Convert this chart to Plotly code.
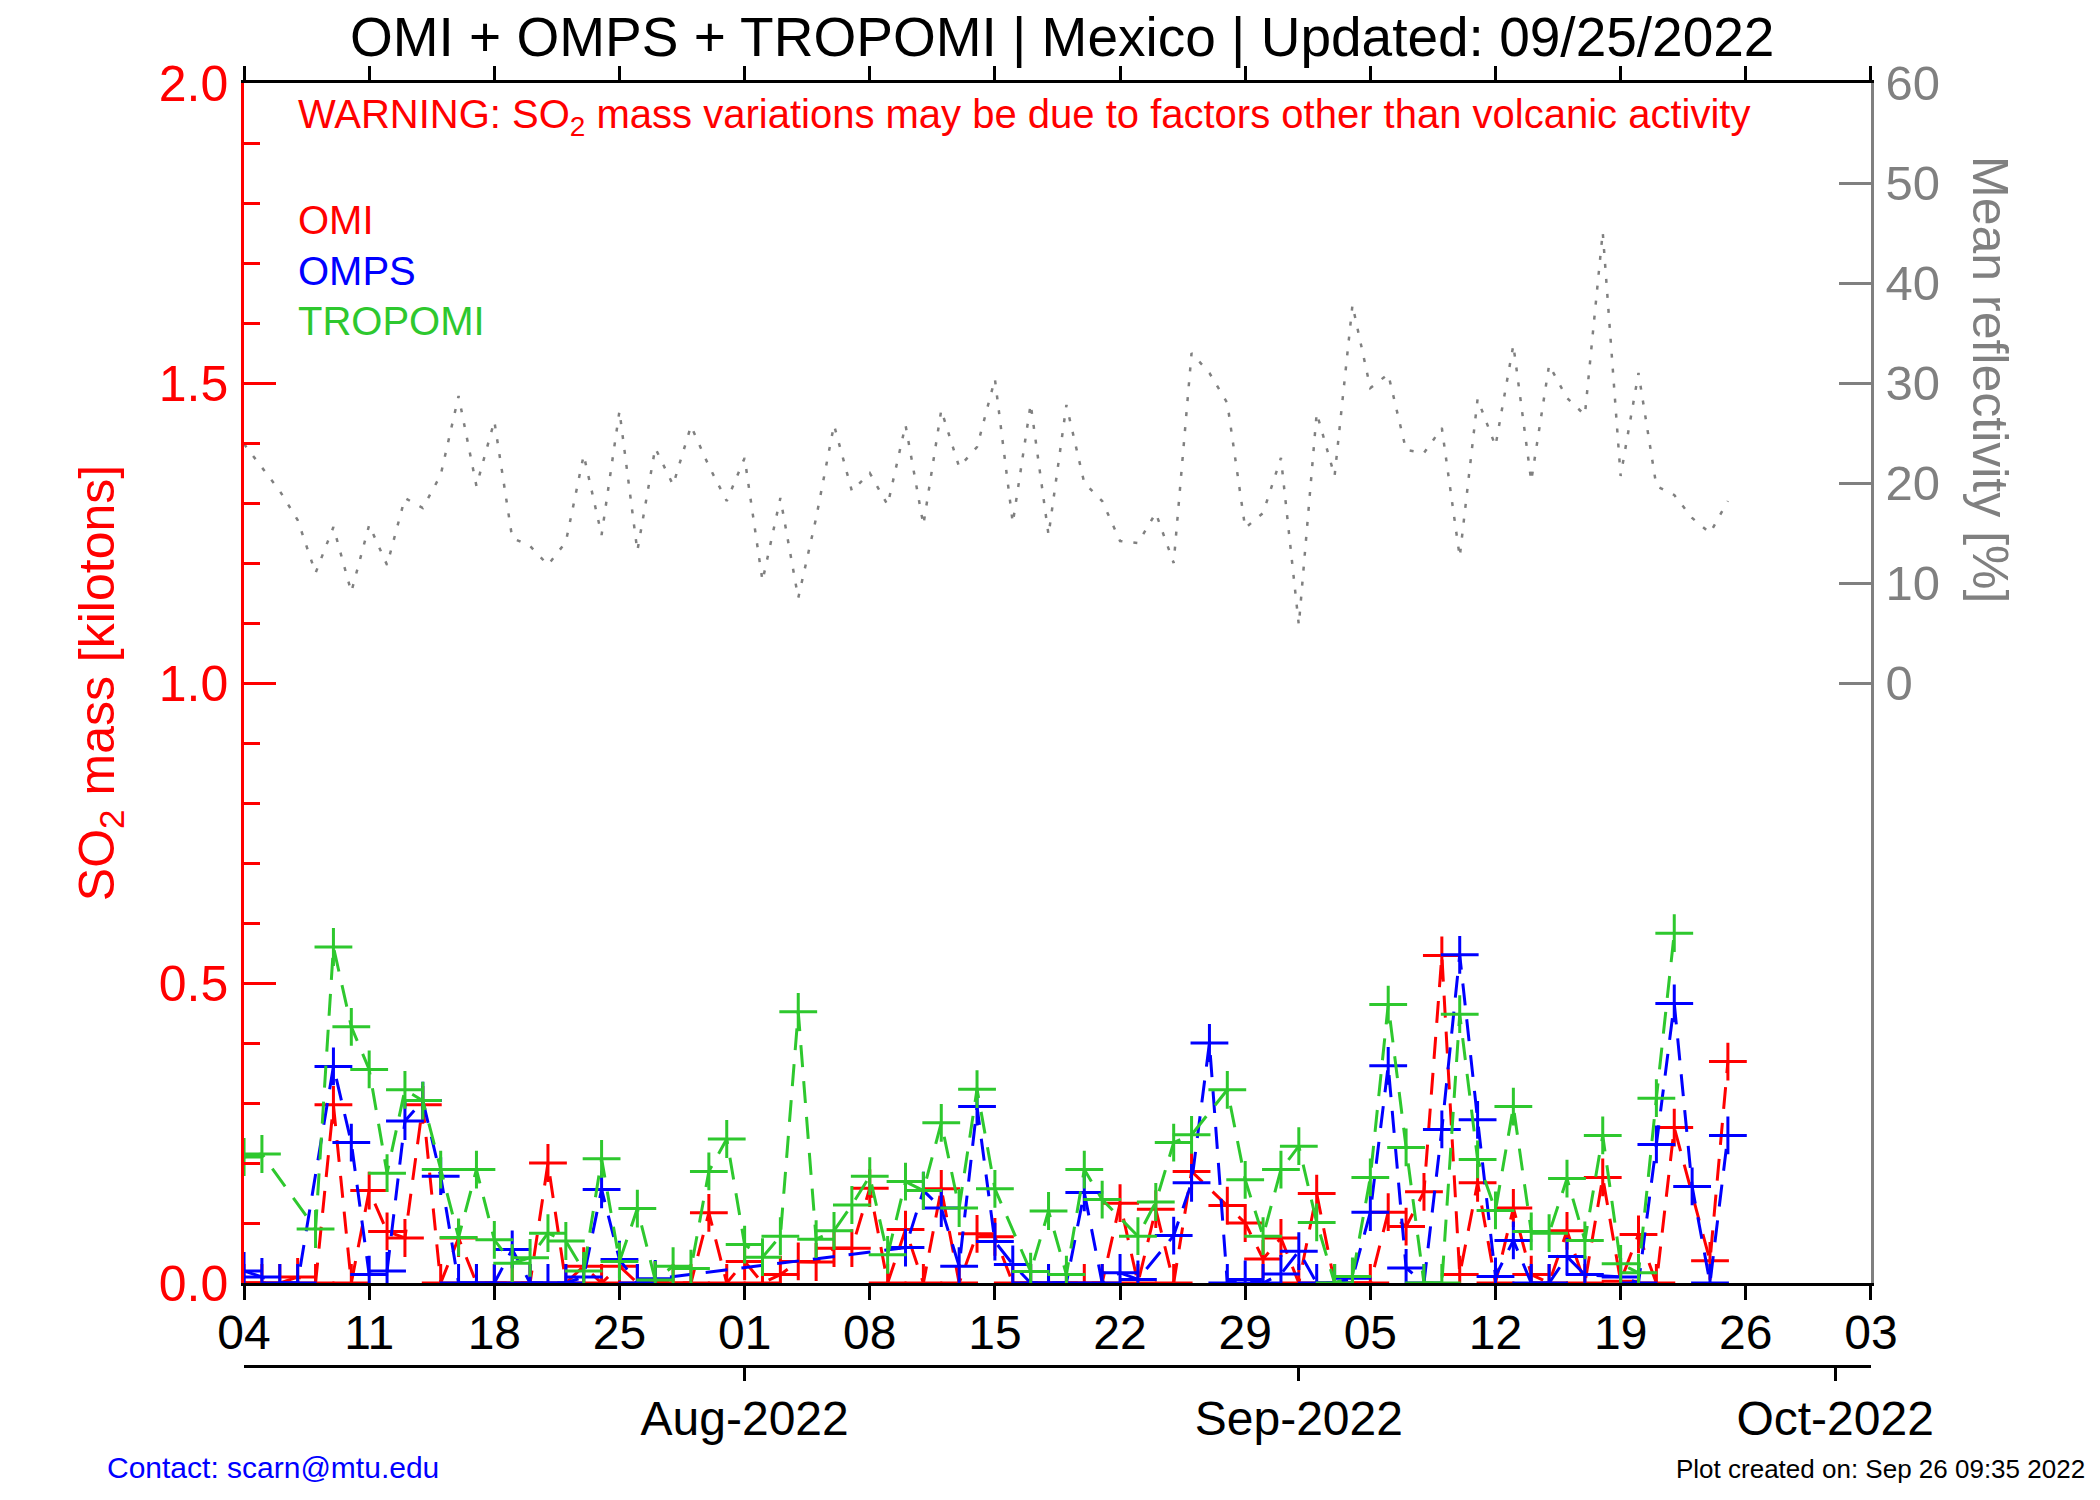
import pandas as pd
import plotly.graph_objects as go

#------------------------------------------------------------
#                          DATA
#------------------------------------------------------------
start_day = '2022-07-04'
n_days = 84
days = pd.date_range(start_day, periods=n_days, freq='D')

# SO2 mass [kilotons], one value per day (None = no data)
omi = [0, 0, 0, 0.01, 0, 0.297, 0, 0.154, 0.086, 0.075,
       0.297, 0, 0.075, 0, 0, 0, 0, 0.2, 0, 0.028,
       0, 0.028, 0, 0.005, 0, 0, 0.117, 0, 0.036, 0,
       0.014, 0.036, 0.035, 0.058, 0.058, 0.158, 0, 0.089, 0, 0.157,
       0, 0.082, 0.077, 0, 0, 0, 0, 0, 0, 0.133,
       0, 0.123, 0, 0.186, None, 0.129, 0.1, 0.04, 0.075, 0,
       0.149, 0, 0, 0, 0.118, 0.094, 0.152, 0.546, 0.014, 0.167,
       0, 0.125, 0.014, 0, 0.087, 0, 0.176, 0.003, 0.081, 0,
       0.259, None, 0.037, 0.369]

omps = [0.02, 0.01, 0, 0, None, 0.361, 0.234, 0.014, 0.02, 0.27,
        0.304, 0.178, 0, 0, 0, 0.056, 0, 0, 0, 0.01,
        0.156, 0.039, 0, 0.007, None, None, None, None, None, None,
        None, None, None, None, None, None, None, 0.059, 0.154, 0.125,
        0.028, 0.294, 0.069, 0.031, 0, 0, 0, 0.151, 0, 0.017,
        0.006, None, 0.079, 0.167, 0.4, 0, 0.006, 0, 0.015, 0.053,
        0, 0, 0.008, 0.118, 0.362, 0.025, 0, 0.256, 0.547, 0.272,
        0.011, 0.071, 0, 0, 0.044, 0.014, None, 0.01, 0, 0.231,
        0.466, 0.161, 0, 0.246]

tropomi = [0.21, 0.215, None, None, 0.09, 0.56, 0.427, 0.356, 0.183, 0.322,
           0.304, 0.189, 0.076, 0.189, 0.072, 0.033, 0.042, 0.083, 0.07, 0.02,
           0.207, 0.036, 0.124, 0.005, 0.028, 0.024, 0.186, 0.24, 0.064, 0.043,
           0.078, 0.452, 0.073, 0.087, 0.13, 0.178, 0.047, 0.169, 0.154, 0.267,
           0.125, 0.323, 0.157, None, 0.019, 0.12, 0.014, 0.189, 0.139, None,
           0.078, 0.135, 0.234, 0.247, None, 0.322, 0.172, 0.078, 0.189, 0.228,
           0.101, 0, 0.011, 0.176, 0.464, 0.226, 0, 0, 0.448, 0.206,
           0.121, 0.294, 0.086, 0.083, 0.174, 0.071, 0.246, 0.032, 0.017, 0.308,
           0.583, None, None, None]

# mean reflectivity [%]
reflectivity = [23.9, 21.5, 19.2, 16.3, 11.0, 15.6, 9.1, 15.8, 11.8, 18.5,
                17.5, 20.8, 28.7, 19.7, 26.2, 14.5, 13.7, 11.8, 14.1, 22.8,
                14.8, 27.2, 13.2, 23.5, 19.8, 25.7, 21.7, 18.2, 22.5, 10.2,
                18.5, 8.5, 16.5, 25.8, 19.2, 21.0, 17.8, 25.8, 15.8, 27.3,
                21.6, 23.6, 30.4, 16.0, 27.9, 14.8, 27.8, 20.0, 18.2, 14.2,
                14.0, 17.0, 12.0, 33.0, 31.0, 28.0, 15.5, 17.0, 22.5, 5.8,
                27.0, 20.7, 37.8, 29.5, 30.9, 23.3, 23.0, 25.5, 12.6, 28.4,
                23.7, 33.8, 20.2, 31.8, 28.5, 26.8, 45.1, 20.7, 31.0, 19.7,
                18.8, 16.5, 15.0, 18.2]

x_range = ['2022-07-04', '2022-10-03']
so2_ticks = [0.0, 0.5, 1.0, 1.5, 2.0]
refl_ticks = [0, 10, 20, 30, 40, 50, 60]
month_ticks = ['2022-08-01', '2022-09-01', '2022-10-01']
month_labels = ['Aug-2022', 'Sep-2022', 'Oct-2022']

sensors = [('OMI', omi, '#ff0000'),
           ('OMPS', omps, '#0000ff'),
           ('TROPOMI', tropomi, '#2ec82e')]

#------------------------------------------------------------
#                       PLOTTING
#------------------------------------------------------------
FONT = 'Liberation Sans, Arial, Helvetica, sans-serif'
GRAY = '#808080'

fig = go.Figure()

fig.add_trace(go.Scatter(
    x=days, y=reflectivity, yaxis='y2', mode='lines',
    line=dict(color=GRAY, width=2.5, dash='4px,11px'),
    showlegend=False))

for name, vals, col in sensors:
    fig.add_trace(go.Scatter(
        x=days, y=vals, mode='lines+markers', name=name,
        connectgaps=True,
        line=dict(color=col, width=3, dash='22px,14px'),
        marker=dict(symbol='cross-thin', size=27, line=dict(color=col, width=3)),
        showlegend=False))

# invisible copy so that the month axis below the plot gets drawn
fig.add_trace(go.Scatter(x=days, y=omi, xaxis='x2', mode='markers',
                         marker=dict(opacity=0), hoverinfo='skip', showlegend=False))

fig.update_layout(
    width=2100, height=1500,
    margin=dict(l=0, r=0, t=0, b=0),
    paper_bgcolor='white', plot_bgcolor='white',
    font=dict(family=FONT, color='black'),
    title=dict(text='OMI + OMPS + TROPOMI | Mexico | Updated: 09/25/2022',
               x=0.502, xanchor='center', y=0.981, yanchor='middle',
               font=dict(size=55, color='black')),
    xaxis=dict(
        domain=[0.1124, 0.8871], range=x_range, type='date', automargin=False,
        tick0='2022-07-04', dtick=7 * 86400000, tickformat='%d',
        ticks='outside', ticklen=14, tickwidth=2.5, tickcolor='black',
        showline=True, linecolor='black', linewidth=2.5, mirror='ticks',
        showgrid=False, zeroline=False,
        tickfont=dict(size=48, color='black'), ticklabelstandoff=-8),
    xaxis2=dict(
        overlaying='x', anchor='free', position=0.095, range=x_range, type='date',
        automargin=False,
        tickmode='array', tickvals=month_ticks, ticktext=month_labels,
        ticks='outside', ticklen=14, tickwidth=2.5, tickcolor='black',
        showline=True, linecolor='black', linewidth=2.5,
        showgrid=False, zeroline=False,
        tickfont=dict(size=48, color='black'), ticklabelstandoff=-4),
    yaxis=dict(
        domain=[0.15, 0.95], range=[0, 2], tickmode='array', tickvals=so2_ticks,
        automargin=False,
        tickformat='.1f', ticks='inside', ticklen=32, tickwidth=2.5, tickcolor='red',
        minor=dict(dtick=0.1, tick0=0, ticks='inside', ticklen=16,
                   tickwidth=2.5, tickcolor='red'),
        showline=True, linecolor='red', linewidth=2.5,
        showgrid=False, zeroline=False,
        tickfont=dict(size=50, color='red'), ticklabelstandoff=3,
        title=dict(text='SO<sub>2</sub> mass [kilotons]', standoff=29,
                   font=dict(size=50, color='red'))),
    yaxis2=dict(
        overlaying='y', side='right', anchor='x', range=[-60, 60],
        automargin=False,
        tickmode='array', tickvals=refl_ticks,
        ticks='inside', ticklen=32, tickwidth=2.5, tickcolor=GRAY,
        showline=True, linecolor=GRAY, linewidth=2.5,
        showgrid=False, zeroline=False,
        tickfont=dict(size=49, color=GRAY), ticklabelstandoff=2),
)

# warning and sensor labels inside the plot
fig.add_annotation(
    text='WARNING: SO<sub>2</sub> mass variations may be due to factors other than volcanic activity',
    xref='paper', yref='paper', x=0.137, y=0.927, xanchor='left', yanchor='middle',
    showarrow=False, font=dict(size=40, color='red'))
label_y = [0.8587, 0.8247, 0.7913]
for (name, vals, col), yy in zip(sensors, label_y):
    fig.add_annotation(text=name, xref='paper', yref='paper', x=0.137, y=yy,
                       xanchor='left', yanchor='middle', showarrow=False,
                       font=dict(size=40, color=col))

# right axis title
fig.add_annotation(text='Mean reflectivity [%]', xref='paper', yref='paper',
                   x=0.9438, y=0.752, textangle=90, showarrow=False,
                   xanchor='center', yanchor='middle',
                   font=dict(size=50, color=GRAY))

# footer
fig.add_annotation(text='Contact: scarn@mtu.edu', xref='paper', yref='paper',
                   x=0.046, y=0.027, xanchor='left', yanchor='middle',
                   showarrow=False, font=dict(size=30, color='blue'))
fig.add_annotation(text='Plot created on: Sep 26 09:35 2022', xref='paper', yref='paper',
                   x=0.99, y=0.026, xanchor='right', yanchor='middle',
                   showarrow=False, font=dict(size=26, color='black'))

fig.write_html("out.html")
